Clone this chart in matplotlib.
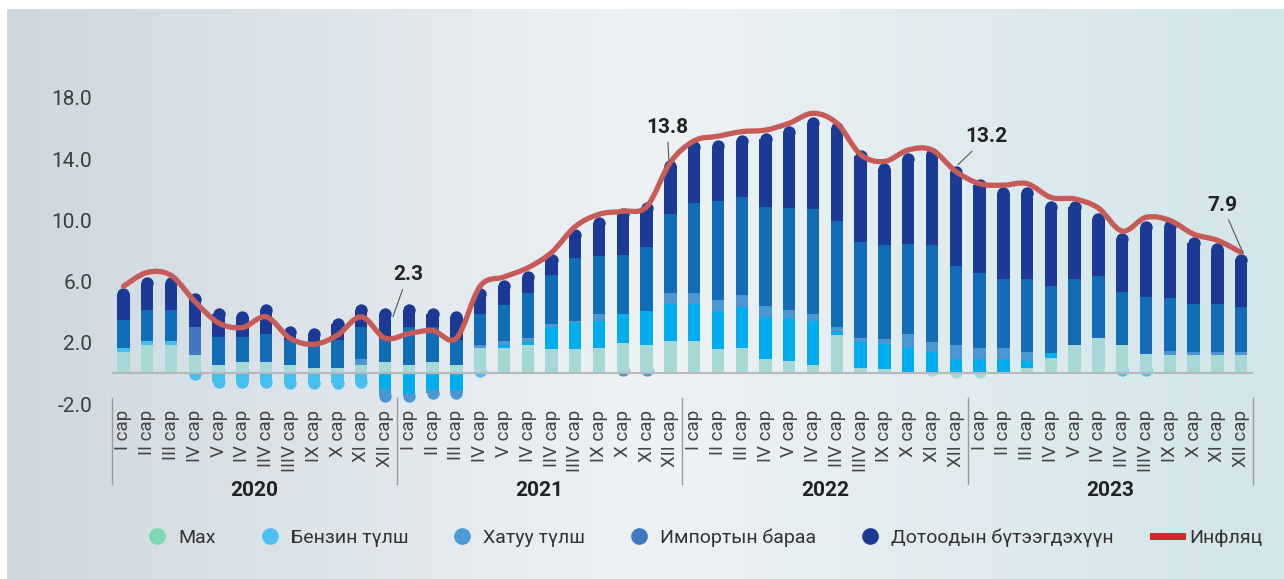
import numpy as np
import matplotlib
matplotlib.use("Agg")
import matplotlib.pyplot as plt
from matplotlib.path import Path
from matplotlib.patches import PathPatch
from matplotlib.lines import Line2D
import matplotlib.transforms as mtransforms

plt.rcParams['font.family'] = ['Roboto', 'DejaVu Sans']

years = ["2020", "2021", "2022", "2023"]
months = ["I сар", "II сар", "III сар", "IV сар", "V сар", "IV сар",
          "IIV сар", "IIIV сар", "IX сар", "X сар", "XI сар", "XII сар"]
series_names = ["Мах", "Бензин түлш", "Хатуу түлш", "Импортын бараа",
                "Дотоодын бүтээгдэхүүн"]

meat = [1.40, 1.87, 1.87, 1.21, 0.56, 0.77, 0.77, 0.56, 0.32, 0.32, 0.56, 0.75,
        0.56, 0.75, 0.56, 1.65, 1.65, 1.87, 1.62, 1.62, 1.69, 1.97, 1.87, 2.12,
        2.13, 1.60, 1.67, 0.95, 0.82, 0.56, 2.52, 0.36, 0.27, 0.00, -0.20, -0.30,
        -0.30, 0.00, 0.32, 1.00, 1.87, 2.34, 1.87, 1.28, 1.21, 1.21, 1.21, 1.21]
benzin = [0.29, 0.26, 0.26, -0.42, -0.97, -0.97, -0.97, -1.00, -1.00, -1.00, -0.97, -1.03,
          -1.34, -1.08, -1.08, -0.27, 0.22, 0.21, 1.38, 1.66, 1.76, 1.92, 2.21, 2.42,
          2.41, 2.50, 2.65, 2.76, 2.83, 2.89, 0.21, 1.70, 1.66, 1.67, 1.38, 0.97,
          0.95, 0.97, 0.50, 0.32, 0.00, 0.00, -0.20, -0.20, 0.00, 0.00, 0.00, 0.00]
solid = [0.00, 0.00, 0.00, 0.00, 0.00, 0.00, 0.00, 0.00, 0.00, 0.00, 0.41, -0.87,
         -0.56, -0.61, -0.61, 0.22, 0.26, 0.26, 0.24, 0.17, 0.44, -0.20, -0.20, 0.74,
         0.74, 0.70, 0.81, 0.70, 0.50, 0.44, 0.29, 0.26, 0.35, 0.91, 0.70, 0.87,
         0.70, 0.70, 0.61, 0.00, 0.00, 0.00, 0.00, 0.00, 0.28, 0.22, 0.22, 0.22]
imported = [1.81, 2.02, 2.02, 1.79, 1.80, 1.63, 1.81, 1.63, 1.76, 1.83, 2.09, 1.65,
            2.44, 2.31, 1.63, 2.02, 2.35, 2.90, 3.20, 4.08, 3.75, 3.86, 4.15, 5.14,
            5.84, 6.47, 6.43, 6.45, 6.69, 6.86, 6.97, 6.27, 6.08, 5.86, 6.28, 5.19,
            4.94, 4.51, 4.75, 4.42, 4.31, 4.03, 3.46, 3.74, 3.43, 3.11, 3.11, 2.94]
domestic = [2.07, 2.13, 2.18, 2.24, 1.94, 1.70, 1.96, 0.94, 0.87, 1.48, 1.48, 1.90,
            1.54, 1.24, 1.91, 1.68, 1.62, 1.48, 1.37, 1.91, 2.61, 3.05, 3.00, 3.53,
            4.10, 3.99, 4.03, 4.84, 5.36, 6.05, 6.47, 6.01, 5.42, 5.95, 6.36, 6.53,
            6.10, 5.99, 5.99, 5.56, 5.12, 4.14, 3.83, 4.97, 5.11, 4.40, 3.97, 3.44]
inflation = [5.7, 6.6, 6.4, 4.7, 3.3, 3.0, 3.7, 2.3, 1.9, 2.5, 3.7, 2.3,
             2.6, 2.8, 2.3, 5.7, 6.3, 6.9, 7.9, 9.6, 10.4, 10.6, 10.9, 13.8,
             15.2, 15.5, 15.8, 15.9, 16.35, 17.0, 16.35, 14.3, 13.85, 14.6, 14.6, 13.2,
             12.4, 12.3, 12.4, 11.5, 11.4, 10.8, 9.3, 10.2, 10.0, 9.1, 8.7, 7.9]

# colours
c_meat = "#a6d9d5"
c_benz = "#00aeef"
c_benz_light = "#47bfee"
c_solid = "#4a97d3"
c_imp = "#116db5"
c_dom = "#1b3a95"
c_line = "#c75b57"

n = len(meat)
x = np.arange(n)
labels = months * len(years)

fig = plt.figure(figsize=(12.84, 5.79), dpi=100)
fig.patch.set_facecolor("white")

# gradient background panel
bg = fig.add_axes([7 / 1284, 0, 1 - 7 / 1284, 1 - 9 / 579])
bg.axis("off")
stops = np.array([[0xcd, 0xd8, 0xdf], [0xee, 0xf2, 0xf5], [0xd2, 0xe5, 0xe9]]) / 255
gx = np.linspace(0, 1, 400)
grad = np.stack([np.interp(gx, [0, 0.5, 1], stops[:, k]) for k in range(3)], axis=-1)
bg.imshow(grad[None, :, :], aspect="auto", extent=[0, 1, 0, 1])

ax = fig.add_axes([111.6 / 1284, 1 - 404 / 579, (1253 - 111.6) / 1284, (404 - 75) / 579])
ax.set_facecolor("none")
ax.set_xlim(-0.5, 47.5)
ax.set_ylim(-2.0, 19.5)

bw = 0.52
r_y = (bw * 23.78 / 2) / 15.3   # radius of rounded end in data units
ms = (bw * 23.78 * 72 / 100) ** 2

series = [meat, benzin, solid, imported, domestic]
for i in range(n):
    cols = [c_meat,
            c_benz_light if (i <= 10 or i in (15, 42, 43)) else c_benz,
            c_solid,
            "#4278c0" if i == 3 else c_imp,
            c_dom]
    vals = [s[i] for s in series]
    pos = [(k, v) for k, v in enumerate(vals) if v > 0]
    neg = [(k, v) for k, v in enumerate(vals) if v < 0]
    base = 0.0
    for j, (k, v) in enumerate(pos):
        h = v
        if j == len(pos) - 1:
            h = max(v - r_y, 0)
            ax.scatter(i, base + v - r_y, s=ms, color=cols[k], zorder=1.5, linewidths=0)
        ax.bar(i, h, bw, bottom=base, color=cols[k], zorder=2, linewidth=0)
        base += v
    base = 0.0
    for j, (k, v) in enumerate(neg):
        h = v
        if j == len(neg) - 1:
            h = min(v + r_y, 0)
            ax.scatter(i, base + v + r_y, s=ms, color=cols[k], zorder=1.2, linewidths=0)
        ax.bar(i, h, bw, bottom=base, color=cols[k], zorder=2, linewidth=0)
        base += v

ax.axhline(0, color="#b5b9bc", lw=1.5, zorder=2.5)

# smoothed inflation line (Catmull-Rom through the monthly values)
pts = np.column_stack([x, inflation])
verts = [tuple(pts[0])]
codes = [Path.MOVETO]
for i in range(n - 1):
    p0 = pts[max(i - 1, 0)]
    p1 = pts[i]
    p2 = pts[i + 1]
    p3 = pts[min(i + 2, n - 1)]
    verts += [tuple(p1 + (p2 - p0) / 6), tuple(p2 - (p3 - p1) / 6), tuple(p2)]
    codes += [Path.CURVE4] * 3
ax.add_patch(PathPatch(Path(verts, codes), fill=False, ec=c_line, lw=3.8,
                       capstyle="round", joinstyle="round", zorder=3))

# annotations
notes = [("2.3", (11.33, 3.7), (11.96, 6.45)),
         ("13.8", (22.94, 13.82), (22.86, 16.1)),
         ("13.2", (35.09, 13.63), (36.3, 15.45)),
         ("7.9", (47.08, 7.87), (46.2, 11.0))]
for txt, pt, tp in notes:
    ax.annotate(txt, xy=pt, xytext=tp, ha="center", va="center", fontsize=15,
                fontweight="bold", color="#222222", zorder=4,
                arrowprops=dict(arrowstyle="-", color="#555555", lw=0.8,
                                shrinkA=2, shrinkB=0))

# axes styling
for sp in ax.spines.values():
    sp.set_visible(False)
yt = [-2, 2, 6, 10, 14, 18]
ax.set_yticks(yt)
ax.set_yticklabels([f"{v:.1f}" for v in yt], fontsize=15, color="#3d3d3d")
ax.tick_params(axis="y", length=0, pad=14)
ax.set_xticks(x)
ax.set_xticklabels(labels, rotation=90, fontsize=13.5, color="#444444")
ax.tick_params(axis="x", length=0, pad=4)

# year separators and year labels
trans = mtransforms.blended_transform_factory(ax.transData, ax.transAxes)
for b in [-0.5, 11.5, 23.5, 35.5, 47.5]:
    ax.plot([b, b], [0.018, -0.243], color="#9a9a9a", lw=1, transform=trans,
            clip_on=False)
for k, yr in enumerate(years):
    ax.text(5.5 + 12 * k, -(491 - 404) / 329, yr, transform=trans, ha="center",
            va="center", fontsize=15, fontweight="bold", color="#222222")

# legend
leg_cols = ["#7fd6b4", "#4cc0ee", "#4b9ad4", "#3f78c0", "#1a3a96"]
handles = [Line2D([], [], marker="o", ls="", ms=12, mfc=c, mec="none") for c in leg_cols]
handles.append(Line2D([], [], color="#d0282d", lw=5))
fig.legend(handles, series_names + ["Инфляц"], loc="center",
           bbox_to_anchor=(0.547, 1 - 538 / 579), ncol=6, frameon=False,
           fontsize=14, handlelength=1.5, handletextpad=0.35, columnspacing=2.0,
           labelcolor="#333333")

fig.savefig("out.png", dpi=100)
